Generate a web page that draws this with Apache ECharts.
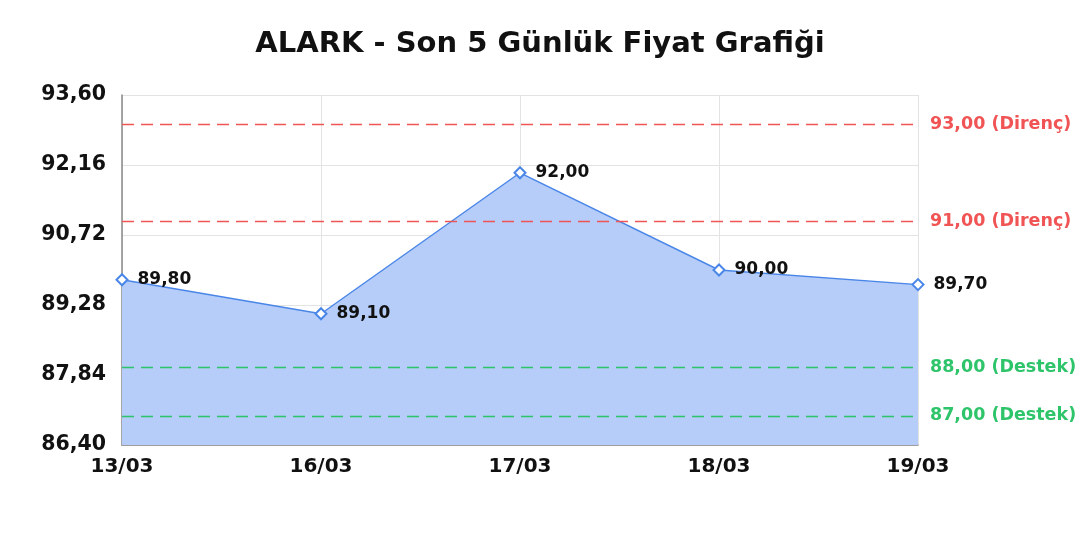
<!DOCTYPE html>
<html><head><meta charset="utf-8">
<script src="https://cdn.jsdelivr.net/npm/echarts@6/dist/echarts.min.js"></script>
<style>html,body{margin:0;padding:0;background:#fff}#c{width:1080px;height:540px}</style>
</head><body><div id="c"></div>
<script>
const categories = ["13/03","16/03","17/03","18/03","19/03"];
const prices = [89.80, 89.10, 92.00, 90.00, 89.70];
const resistance = [93.00, 91.00];
const support = [88.00, 87.00];
const yMin = 86.40, yMax = 93.60, yStep = 1.44;
const titleText = "ALARK - Son 5 Günlük Fiyat Grafiği";

const fmt = v => v.toFixed(2).replace('.', ',');
const font = "'DejaVu Sans', sans-serif";

function levelSeries(values, color, tag) {
  return {
    type: 'line', data: [], silent: true,
    markLine: {
      symbol: 'none', silent: true,
      lineStyle: {type: [12, 7], width: 1.3, color: color},
      label: {position: 'end', distance: 12, fontFamily: font, fontWeight: 'bold', fontSize: 17.5, color: color,
              formatter: p => fmt(p.value) + ' (' + tag + ')'},
      data: values.map(v => ({yAxis: v}))
    }
  };
}

const chart = echarts.init(document.getElementById('c'));
chart.setOption({
  animation: false,
  title: {text: titleText, left: 'center', top: 25, textStyle:{fontFamily: font, fontWeight:'bold', fontSize: 29, color:'#111'}},
  grid: {left: 122, right: 162, top: 95, bottom: 95},
  xAxis: {
    type: 'category', data: categories, boundaryGap: false,
    axisLine: {show:true, lineStyle:{color:'#888', width: 1.5}},
    axisTick: {show:false},
    axisLabel: {fontFamily: font, fontWeight:'bold', fontSize: 20, color:'#111', margin: 12},
    splitLine: {show:true, lineStyle:{color:'#e3e3e3'}}
  },
  yAxis: {
    type: 'value', min: yMin, max: yMax, interval: yStep,
    axisLine: {show:true, lineStyle:{color:'#888', width: 1.5}},
    axisTick: {show:false},
    axisLabel: {fontFamily: font, fontWeight:'bold', fontSize: 20.5, color:'#111', margin: 16, formatter: v => fmt(v)},
    splitLine: {show:true, lineStyle:{color:'#e3e3e3'}}
  },
  series: [{
    type: 'line', data: prices,
    symbol: 'emptyDiamond', symbolSize: 11,
    lineStyle: {color:'#4a86e8', width: 1.4},
    itemStyle: {color:'#4a86e8', borderWidth: 2},
    areaStyle: {color:'#b5cdf8', opacity: 1},
    label: {show:true, position:'right', distance: 9, formatter: p => fmt(p.value), fontFamily: font, fontWeight:'bold', fontSize: 17, color:'#111'},
    z: 2
  },
  levelSeries(resistance, '#f05454', 'Direnç'),
  levelSeries(support, '#2ec46a', 'Destek')
  ]
});
</script></body></html>
